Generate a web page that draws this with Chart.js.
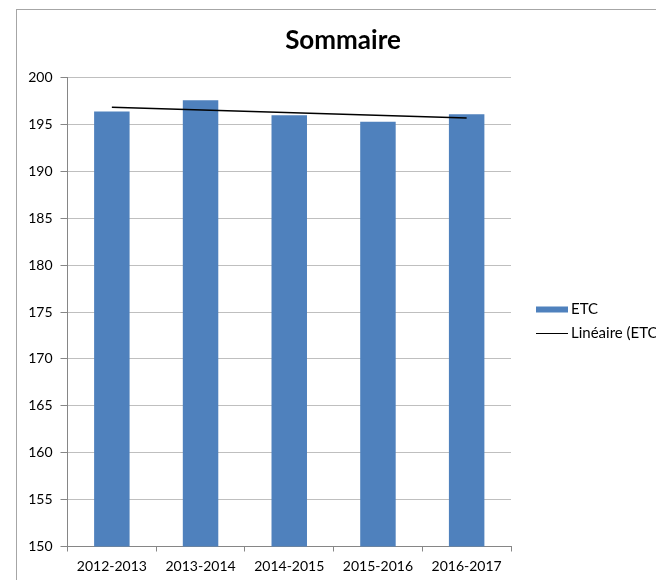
<!DOCTYPE html>
<html>
<head>
<meta charset="utf-8">
<script src="https://cdn.jsdelivr.net/npm/chart.js@4.4.1/dist/chart.umd.min.js"></script>
<style>
  html, body { margin: 0; padding: 0; background: #fff; overflow: hidden; width: 656px; height: 580px; }
  #wrap { position: absolute; left: 16px; top: 9px; border-left: 1px solid #a6a6a6; border-top: 1px solid #a6a6a6; }
  canvas { display: block; }
</style>
</head>
<body>
<div id="wrap"><canvas id="c" width="652" height="570"></canvas></div>
<script>
const chartTitle = 'Sommaire';
const categories = ['2012-2013', '2013-2014', '2014-2015', '2015-2016', '2016-2017'];
const etcValues = [196.4, 197.6, 196.0, 195.3, 196.1];
const trendValues = [196.86, null, null, null, 195.70];
const seriesLabels = ['ETC', 'Linéaire (ETC)'];
const yMin = 150, yMax = 200, yStep = 5;

const FONT = 'Lato, "Open Sans", sans-serif';

const customDraw = {
  id: 'customDraw',
  afterDraw(chart) {
    const ctx = chart.ctx;
    ctx.save();
    // Title
    ctx.fillStyle = '#000';
    ctx.font = 'bold 26px ' + FONT;
    ctx.textAlign = 'center';
    ctx.textBaseline = 'alphabetic';
    ctx.fillText(chartTitle, 326, 38.5);
    // Legend
    const lx = 519, bw = 32;
    const rows = [299.5, 323];
    ctx.font = '15px ' + FONT;
    ctx.textAlign = 'left';
    ctx.textBaseline = 'middle';
    chart.data.datasets.forEach((ds, i) => {
      const y = rows[i];
      if (ds.type === 'line') {
        ctx.strokeStyle = ds.borderColor;
        ctx.lineWidth = 1;
        ctx.beginPath();
        ctx.moveTo(lx, Math.round(y) + 0.5);
        ctx.lineTo(lx + bw, Math.round(y) + 0.5);
        ctx.stroke();
      } else {
        ctx.fillStyle = ds.backgroundColor;
        ctx.fillRect(lx, y - 3, bw, 6);
      }
      ctx.fillStyle = '#000';
      ctx.fillText(ds.label, lx + bw + 3, y);
    });
    ctx.restore();
  }
};

new Chart(document.getElementById('c'), {
  data: {
    labels: categories,
    datasets: [
      {
        type: 'bar',
        label: seriesLabels[0],
        data: etcValues,
        backgroundColor: '#4F81BD',
        borderWidth: 0,
        barPercentage: 0.4,
        categoryPercentage: 1.0,
        order: 1
      },
      {
        type: 'line',
        label: seriesLabels[1],
        data: trendValues,
        spanGaps: true,
        borderColor: '#000000',
        borderWidth: 1.5,
        pointRadius: 0,
        fill: false,
        order: 0
      }
    ]
  },
  options: {
    responsive: false,
    animation: false,
    layout: { padding: { top: 67.7, right: 158, left: 0, bottom: 0 } },
    plugins: {
      legend: { display: false },
      title: { display: false },
      tooltip: { enabled: false }
    },
    scales: {
      x: {
        offset: true,
        grid: { display: true, drawOnChartArea: false, drawTicks: true, tickLength: 5, offset: true, color: '#868686', tickColor: '#868686' },
        border: { display: true, color: '#868686', width: 1 },
        ticks: { color: '#000', font: { family: FONT, size: 14 }, padding: 7, maxRotation: 0, autoSkip: false },
        afterFit(scale) { scale.height = 33.5; }
      },
      y: {
        min: yMin,
        max: yMax,
        grid: { color: '#bfbfbf', tickColor: '#868686', tickLength: 7, drawTicks: true },
        border: { display: true, color: '#868686', width: 1 },
        ticks: { stepSize: yStep, color: '#000', font: { family: FONT, size: 14 }, padding: 8 },
        afterFit(scale) { scale.width = 50.5; }
      }
    }
  },
  plugins: [customDraw]
});
</script>
</body>
</html>
